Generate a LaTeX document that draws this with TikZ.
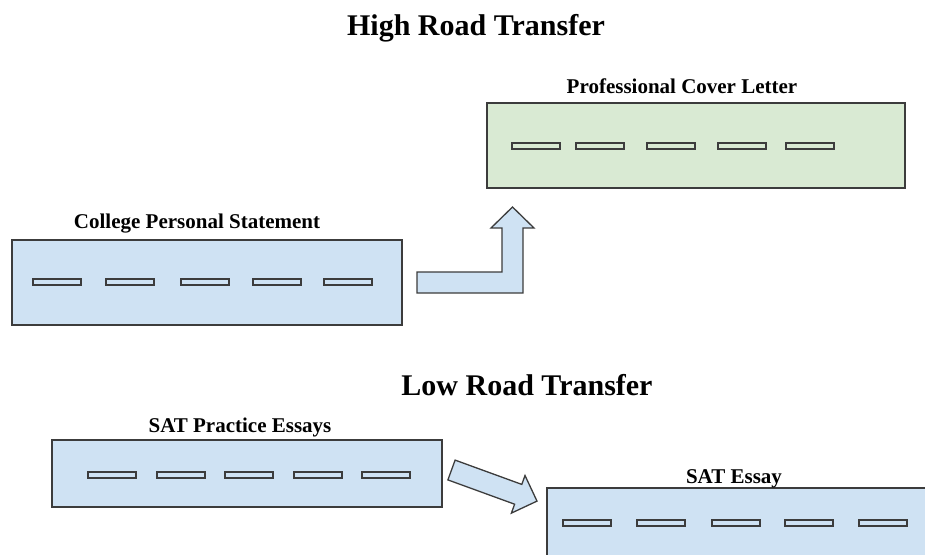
\documentclass[tikz,border=0pt]{standalone}
\usepackage{fontspec}
\setmainfont{Liberation Serif}
\usetikzlibrary{positioning}
\definecolor{boxblue}{HTML}{CFE2F3}
\definecolor{boxgreen}{HTML}{D9EAD3}
\definecolor{edgegray}{HTML}{3C3C3C}

\begin{document}
\begin{tikzpicture}[
                x = 1pt, y = -1pt, % pixel grid, y down
                line width = 1.3pt, line join = miter
            ]

            \tikzstyle{essay}=[draw = edgegray, rectangle, inner sep = 0pt]
            \tikzstyle{lane}=[draw = edgegray, line width = 1.4pt]
            \tikzstyle{title}=[font = \bfseries\fontsize{30}{36}\selectfont,
            anchor = base, inner sep = 0pt]
            \tikzstyle{label}=[font = \bfseries\fontsize{21}{25}\selectfont,
            anchor = base, inner sep = 0pt]
            \tikzstyle{bigarrow}=[draw = edgegray, fill = boxblue]

            \path[use as bounding box] (0,0) rectangle (925,554);
            \clip (0,0) rectangle (925,554);

            % high road
            \node[title] (high) at (476,35) {High Road Transfer};
            \node (cps) [essay, fill = boxblue, minimum width = 390pt,
                minimum height = 85pt] at (207,282.5) {};
            \node[label] (cpslabel) at (197,228) {College Personal Statement};
            \node (pcl) [essay, fill = boxgreen, minimum width = 418pt,
                minimum height = 85pt] at (696,145.5) {};
            \node[label] (pcllabel) at (682,93) {Professional Cover Letter};
            \foreach \x in {33,106,181,253,324}
                \draw[lane, fill = boxblue] (\x,279) rectangle ++(48,6);
            \foreach \x in {512,576,647,718,786}
                \draw[lane, fill = boxgreen] (\x,143) rectangle ++(48,6);
            \draw[bigarrow] (417,272) -- (502,272) -- (502,228) -- (491,228)
                -- (512.5,207) -- (534,228) -- (523,228) -- (523,293)
                -- (417,293) -- cycle;

            % low road
            \node[title] (low) at (527,395) {Low Road Transfer};
            \node (sat) [essay, fill = boxblue, minimum width = 390pt,
                minimum height = 67pt] at (247,473.5) {};
            \node[label] (satlabel) at (240,432) {SAT Practice Essays};
            \node (essay) [essay, fill = boxblue, minimum width = 400pt,
                minimum height = 90pt] at (747,533) {};
            \node[label] (essaylabel) at (734,483) {SAT Essay};
            \foreach \x in {88,157,225,294,362}
                \draw[lane, fill = boxblue] (\x,472) rectangle ++(48,6);
            \foreach \x in {563,637,712,785,859}
                \draw[lane, fill = boxblue] (\x,520) rectangle ++(48,6);
            \draw[bigarrow] (455.1,460.1) -- (521.8,484.4) -- (525,475.5)
                -- (537,501.1) -- (511.4,513.1) -- (514.6,504.2)
                -- (447.9,479.9) -- cycle;

        \end{tikzpicture}
\end{document}
